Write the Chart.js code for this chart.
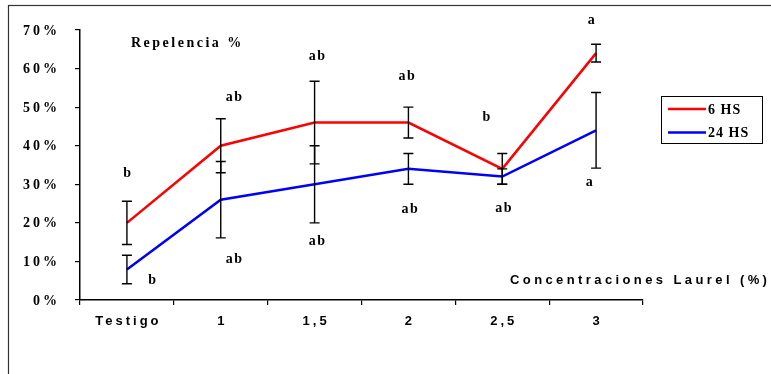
<!DOCTYPE html>
<html>
<head>
<meta charset="utf-8">
<script src="https://cdn.jsdelivr.net/npm/chart.js@4.4.1/dist/chart.umd.min.js"></script>
<style>
  html, body { margin: 0; padding: 0; background: #fff; }
  #wrap { width: 771px; height: 374px; position: relative; }
</style>
</head>
<body>
<div id="wrap"><canvas id="c" width="771" height="374"></canvas></div>
<script>
// ---- data ----
const categories = ['Testigo', '1', '1,5', '2', '2,5', '3'];
const seriesNames = ['6 HS', '24 HS'];
const hs6 = [20, 40, 46, 46, 34, 64];
const hs6Err = [5.6, 7, 10.7, 4, 4, 2.3];
const hs24 = [7.9, 26, 30, 34, 32, 44];
const hs24Err = [3.7, 9.9, 10, 4, 2, 9.8];
const hs6Letters = ['b', 'ab', 'ab', 'ab', 'b', 'a'];
const hs24Letters = ['b', 'ab', 'ab', 'ab', 'ab', 'a'];
const yTicks = [0, 10, 20, 30, 40, 50, 60, 70];
const chartTitle = 'Repelencia %';
const xTitle = 'Concentraciones Laurel (%)';

// ---- layout / style (pixel offsets of the letters from the error bar ends) ----
const hs6LetterOff = [[0, -28], [13, -21], [2, -25], [-2, -31], [-16, -36], [-5, -24]];
const hs24LetterOff = [[25, -3], [13, 21], [2, 19], [1, 25], [1, 24], [-7, 14]];
const RED = '#ff0000', BLUE = '#0000ff';
const SERIF = '"Liberation Serif", "Times New Roman", serif';
const SANS = '"Liberation Sans", Arial, sans-serif';

const overlay = {
  id: 'overlay',
  afterDatasetsDraw(chart) {
    const ctx = chart.ctx;
    const xs = chart.scales.x, ys = chart.scales.y;
    ctx.save();
    // outer frame
    ctx.strokeStyle = '#333';
    ctx.lineWidth = 1.2;
    ctx.strokeRect(8.5, 5.5, 900, 500);

    // error bars
    ctx.strokeStyle = '#000';
    ctx.lineWidth = 1.4;
    const drawErr = (vals, errs) => {
      vals.forEach((v, i) => {
        const x = xs.getPixelForValue(i);
        const yt = ys.getPixelForValue(v + errs[i]);
        const yb = ys.getPixelForValue(v - errs[i]);
        ctx.beginPath();
        ctx.moveTo(x, yt); ctx.lineTo(x, yb);
        ctx.moveTo(x - 5, yt); ctx.lineTo(x + 5, yt);
        ctx.moveTo(x - 5, yb); ctx.lineTo(x + 5, yb);
        ctx.stroke();
      });
    };
    drawErr(hs6, hs6Err);
    drawErr(hs24, hs24Err);

    // significance letters
    ctx.fillStyle = '#000';
    ctx.font = 'bold 14px ' + SERIF;
    ctx.letterSpacing = '1.5px';
    ctx.textAlign = 'center';
    ctx.textBaseline = 'middle';
    hs6Letters.forEach((t, i) => {
      const x = xs.getPixelForValue(i), y = ys.getPixelForValue(hs6[i] + hs6Err[i]);
      ctx.fillText(t, x + hs6LetterOff[i][0] + 1, y + hs6LetterOff[i][1]);
    });
    hs24Letters.forEach((t, i) => {
      const x = xs.getPixelForValue(i), y = ys.getPixelForValue(hs24[i] - hs24Err[i]);
      ctx.fillText(t, x + hs24LetterOff[i][0] + 1, y + hs24LetterOff[i][1]);
    });

    // y tick labels
    ctx.font = 'bold 14px ' + SERIF;
    ctx.letterSpacing = '3px';
    ctx.textAlign = 'right';
    yTicks.forEach(v => {
      ctx.fillText(v + '%', 60, ys.getPixelForValue(v) + 1);
    });

    // x tick labels
    ctx.font = 'bold 13px ' + SANS;
    ctx.letterSpacing = '3px';
    ctx.textAlign = 'center';
    categories.forEach((c, i) => {
      ctx.fillText(c, xs.getPixelForValue(i) + 1.5, 321);
    });

    // title inside plot
    ctx.font = 'bold 14px ' + SERIF;
    ctx.letterSpacing = '2.5px';
    ctx.textAlign = 'left';
    ctx.fillText(chartTitle, 131, 43);

    // x axis title
    ctx.font = 'bold 13px ' + SANS;
    ctx.letterSpacing = '3.4px';
    ctx.textAlign = 'left';
    ctx.fillText(xTitle, 510, 280);

    // legend
    ctx.letterSpacing = '0px';
    ctx.strokeStyle = '#000';
    ctx.lineWidth = 1;
    ctx.strokeRect(661.5, 96.5, 101, 47);
    const cols = [RED, BLUE];
    ctx.font = 'bold 14px ' + SERIF;
    ctx.letterSpacing = '1px';
    ctx.textAlign = 'left';
    seriesNames.forEach((n, i) => {
      const y = 109 + i * 23.5;
      ctx.strokeStyle = cols[i];
      ctx.lineWidth = 2.5;
      ctx.beginPath(); ctx.moveTo(668, y); ctx.lineTo(706, y); ctx.stroke();
      ctx.fillStyle = '#000';
      ctx.fillText(n, 708, y + 1);
    });
    ctx.restore();
  }
};

new Chart(document.getElementById('c'), {
  type: 'line',
  data: {
    labels: categories,
    datasets: [
      { label: seriesNames[0], data: hs6, borderColor: RED, borderWidth: 2.5, pointRadius: 0, tension: 0, fill: false },
      { label: seriesNames[1], data: hs24, borderColor: BLUE, borderWidth: 2.5, pointRadius: 0, tension: 0, fill: false }
    ]
  },
  options: {
    responsive: false,
    animation: false,
    layout: { padding: { left: 0, right: 128, top: 30, bottom: 0 } },
    plugins: { legend: { display: false }, title: { display: false }, tooltip: { enabled: false } },
    scales: {
      x: {
        type: 'category',
        offset: true,
        grid: { offset: true, drawOnChartArea: false, drawTicks: true, tickLength: 5, color: '#000', lineWidth: 1.2 },
        border: { display: true, color: '#000', width: 1.5 },
        ticks: { display: false },
        afterFit: s => { s.height = 74; }
      },
      y: {
        min: 0, max: 70,
        afterBuildTicks: s => { s.ticks = yTicks.map(v => ({ value: v })); },
        grid: { drawOnChartArea: false, drawTicks: true, tickLength: 5, color: '#000', lineWidth: 1.2 },
        border: { display: true, color: '#000', width: 1.5 },
        ticks: { display: false },
        afterFit: s => { s.width = 80; }
      }
    }
  },
  plugins: [overlay]
});
</script>
</body>
</html>
